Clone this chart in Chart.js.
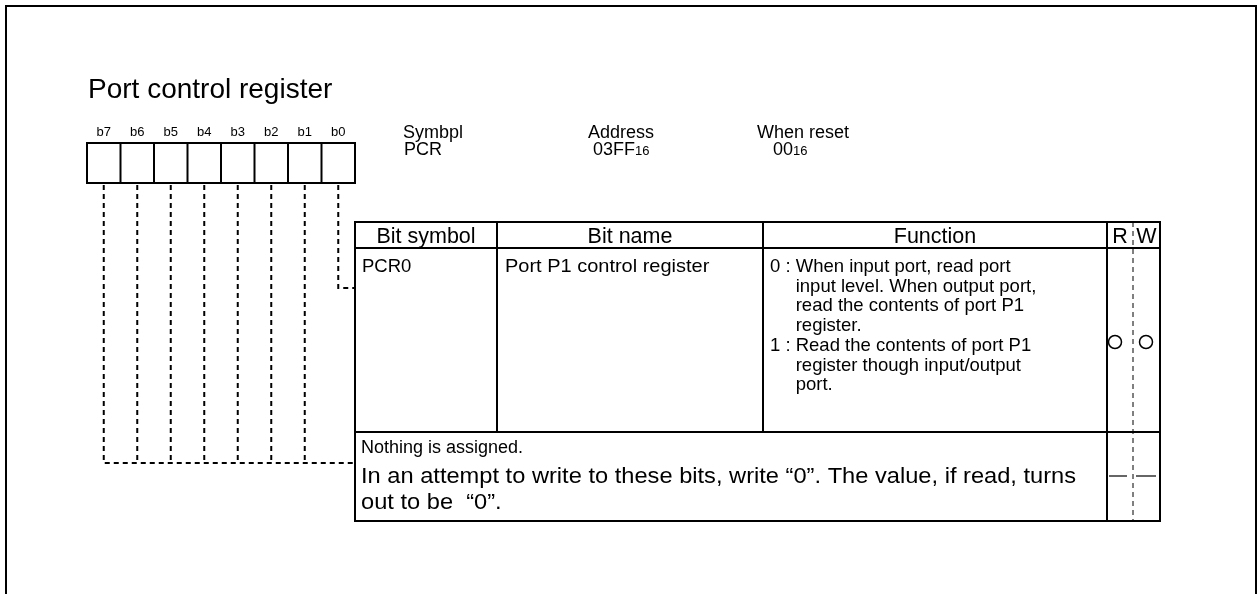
<!DOCTYPE html>
<html>
<head>
<meta charset="utf-8">
<script src="https://cdn.jsdelivr.net/npm/chart.js@4"></script>
<style>
html, body { margin: 0; padding: 0; background: #fff; }
canvas { display: block; }
</style>
</head>
<body>
<canvas id="register-chart" width="1259" height="594"></canvas>
<script>
// register data
var registerTitle = 'Port control register';
var bitLabels = ['b7', 'b6', 'b5', 'b4', 'b3', 'b2', 'b1', 'b0'];
var infoHeads = ['Symbpl', 'Address', 'When reset'];
var infoValues = ['PCR', '03FF', '00'];
var infoSubs = ['', '16', '16'];
var tableHeads = ['Bit symbol', 'Bit name', 'Function', 'R', 'W'];
var rowSymbols = ['PCR0'];
var rowNames = ['Port P1 control register'];
var functionKeys = ['0 : ', '1 : '];
var functionLines = [
    ['When input port, read port', 'input level. When output port,', 'read the contents of port P1', 'register.'],
    ['Read the contents of port P1', 'register though input/output', 'port.']
];
var reservedLines = ['Nothing is assigned.', 'In an attempt to write to these bits, write \u201c0\u201d. The value, if read, turns', 'out to be  \u201c0\u201d.'];
var readMarks = ['circle', 'dash'];
var writeMarks = ['circle', 'dash'];
// table row each bit (b7..b0) is wired to
var bitRows = [1, 1, 1, 1, 1, 1, 1, 0];

// layout
var FONT = '"Liberation Sans", Arial, sans-serif';
var box = { left: 87, top: 143, cell: 33.5, height: 40 };
var table = { top: 222, head: 248, rows: [432, 521], cols: [355, 497, 763, 1107, 1133, 1160] };
var rowAnchor = [288, 463];
var markY = [342, 476];
var markX = [1115, 1146];

function bitCenter(i) { return box.left + box.cell * (i + 0.5); }

// one dashed wire per bit; only the leftmost bit of a group carries the run to the table
var connectorSets = bitLabels.map(function (b, i) {
    var row = bitRows[i];
    var y = rowAnchor[row];
    var pts = [{ x: bitCenter(i), y: box.top + box.height + 2 }, { x: bitCenter(i), y: y }];
    if (bitRows.indexOf(row) === i) pts.push({ x: table.cols[0], y: y });
    return {
        type: 'line',
        data: pts,
        borderColor: '#000',
        borderWidth: 2,
        borderDash: [5, 4],
        pointRadius: 0,
        fill: false,
        tension: 0
    };
});

var markPoints = [];
readMarks.forEach(function (m, r) { if (m === 'circle') markPoints.push({ x: markX[0], y: markY[r] }); });
writeMarks.forEach(function (m, r) { if (m === 'circle') markPoints.push({ x: markX[1], y: markY[r] }); });

var diagram = {
    id: 'diagram',
    afterDatasetsDraw: function (chart) {
        var ctx = chart.ctx;
        var sx = chart.scales.x, sy = chart.scales.y;
        function X(v) { return sx.getPixelForValue(v); }
        function Y(v) { return sy.getPixelForValue(v); }
        function line(x1, y1, x2, y2, w, dash) {
            ctx.save();
            ctx.lineWidth = w;
            ctx.strokeStyle = '#000';
            ctx.setLineDash(dash || []);
            ctx.beginPath();
            ctx.moveTo(X(x1), Y(y1));
            ctx.lineTo(X(x2), Y(y2));
            ctx.stroke();
            ctx.restore();
        }
        function rect(x1, y1, x2, y2) {
            ctx.save();
            ctx.lineWidth = 2;
            ctx.strokeStyle = '#000';
            ctx.strokeRect(X(x1), Y(y1), X(x2) - X(x1), Y(y2) - Y(y1));
            ctx.restore();
        }
        // returns the drawn width
        function text(t, x, y, size, align, stretch) {
            var k = stretch || 1;
            ctx.save();
            ctx.font = size + 'px ' + FONT;
            ctx.textBaseline = 'alphabetic';
            ctx.fillStyle = '#000';
            var w = ctx.measureText(t).width * k;
            var left = X(x);
            if (align === 'center') left -= w / 2;
            ctx.translate(left, Y(y));
            ctx.scale(k, 1);
            ctx.textAlign = 'left';
            ctx.fillText(t, 0, 0);
            ctx.restore();
            return w;
        }

        // outer frame
        rect(6, 6, 1256, 620);

        text(registerTitle, 88, 98, 28);

        // bit boxes
        bitLabels.forEach(function (b, i) {
            text(b, bitCenter(i), 136, 13, 'center');
        });
        rect(box.left, box.top, box.left + box.cell * 8, box.top + box.height);
        for (var i = 1; i < 8; i++) {
            line(box.left + box.cell * i, box.top, box.left + box.cell * i, box.top + box.height, 2);
        }

        // symbol / address / reset
        var infoX = [403, 588, 757];
        var valX = [404, 593, 773];
        infoHeads.forEach(function (h, i) {
            text(h, infoX[i], 138, 18);
            var w = text(infoValues[i], valX[i], 155, 18);
            if (infoSubs[i]) text(infoSubs[i], valX[i] + w, 155, 13);
        });

        // table grid
        var c = table.cols;
        var bottom = table.rows[table.rows.length - 1];
        rect(c[0], table.top, c[5], bottom);
        line(c[0], table.head, c[5], table.head, 2);
        line(c[0], table.rows[0], c[5], table.rows[0], 2);
        line(c[1], table.top, c[1], table.rows[0], 2);
        line(c[2], table.top, c[2], table.rows[0], 2);
        line(c[3], table.top, c[3], bottom, 2);
        line(c[4], table.top, c[4], bottom, 1, [5, 4]);

        // header
        var hx = [(c[0] + c[1]) / 2, (c[1] + c[2]) / 2, (c[2] + c[3]) / 2, (c[3] + c[4]) / 2, (c[4] + c[5]) / 2];
        tableHeads.forEach(function (h, i) {
            text(h, hx[i], 243, 21.5, 'center');
        });

        // row 1
        text(rowSymbols[0], 362, 272, 18.5);
        text(rowNames[0], 505, 272, 18.5, 'left', 1.08);
        var ly = 272;
        functionKeys.forEach(function (k, i) {
            var kw = text(k, 770, ly, 18.5);
            functionLines[i].forEach(function (l) {
                text(l, 770 + kw, ly, 18.5);
                ly += 19.7;
            });
        });

        // row 2
        text(reservedLines[0], 361, 453, 18);
        text(reservedLines[1], 361, 483, 21.5, 'left', 1.1);
        text(reservedLines[2], 361, 509, 21.5, 'left', 1.1);
        if (readMarks[1] === 'dash') line(markX[0] - 6, markY[1], markX[0] + 12, markY[1], 1.2);
        if (writeMarks[1] === 'dash') line(markX[1] - 10, markY[1], markX[1] + 10, markY[1], 1.2);
    }
};

var ctx = document.getElementById('register-chart').getContext('2d');
var registerChart = new Chart(ctx, {
    type: 'scatter',
    data: {
        datasets: connectorSets.concat([{
            type: 'scatter',
            data: markPoints,
            pointStyle: 'circle',
            pointRadius: 6.5,
            pointBorderWidth: 1.5,
            pointBorderColor: '#000',
            pointBackgroundColor: '#fff'
        }])
    },
    options: {
        responsive: false,
        animation: false,
        events: [],
        layout: { padding: 0, autoPadding: false },
        scales: {
            x: { type: 'linear', min: 0, max: 1259, display: false },
            y: { type: 'linear', min: 0, max: 594, reverse: true, display: false }
        },
        plugins: {
            legend: { display: false },
            tooltip: { enabled: false },
            title: { display: false }
        }
    },
    plugins: [diagram]
});
</script>
</body>
</html>
